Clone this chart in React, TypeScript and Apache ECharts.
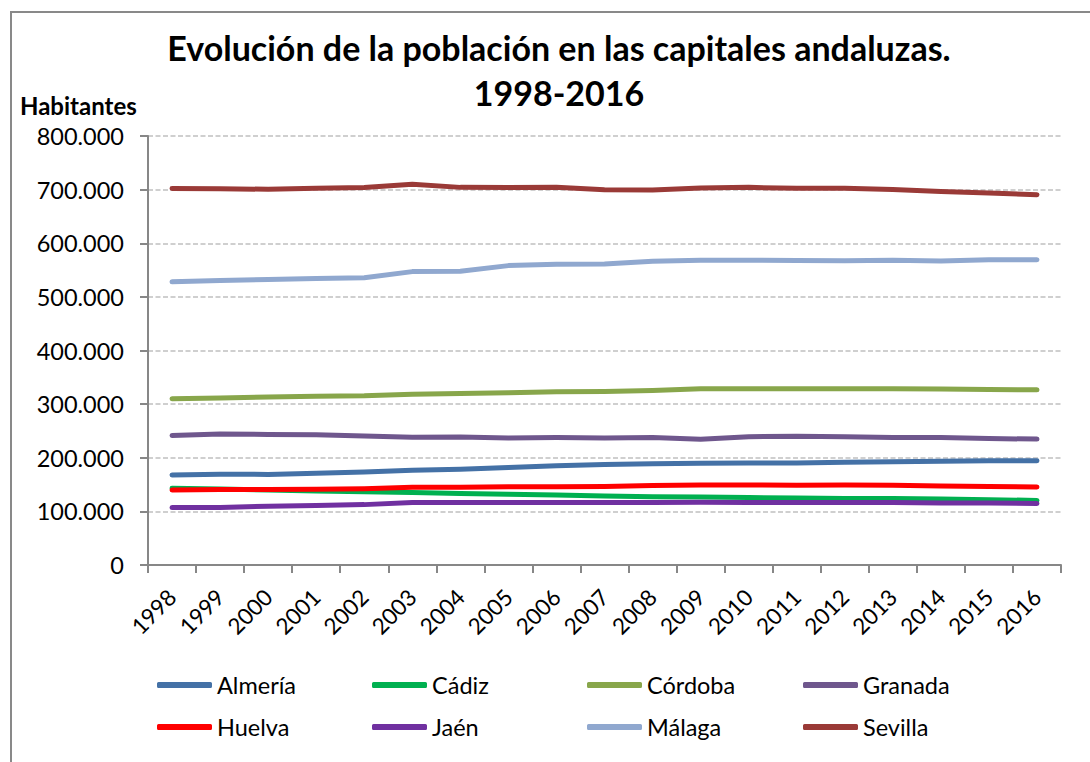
import React, { useEffect, useRef } from "react";
import * as echarts from "echarts";

const years = ["1998","1999","2000","2001","2002","2003","2004","2005","2006","2007","2008","2009","2010","2011","2012","2013","2014","2015","2016"];

const almeria = [168025, 169391, 168945, 170994, 173338, 176727, 178407, 181702, 185309, 187521, 188810, 189680, 190349, 190013, 191443, 192697, 193351, 194203, 194515];
const cadiz = [143129, 141700, 140000, 138200, 136600, 135100, 133400, 131800, 130600, 128600, 127200, 126800, 125800, 124900, 124000, 123900, 123000, 121700, 120500];
const cordoba = [309961, 311500, 313500, 314800, 315500, 318600, 320000, 321200, 322900, 323600, 325500, 328500, 328700, 328800, 328700, 328700, 328000, 327400, 326600];
const granada = [241471, 244486, 243341, 243006, 240661, 238292, 238663, 236982, 237929, 236988, 237663, 234325, 239154, 240099, 239017, 237818, 237540, 235800, 234758];
const huelva = [139991, 140583, 140862, 141479, 142284, 144831, 145150, 145763, 145700, 146173, 148027, 149310, 149410, 148918, 149366, 148568, 147212, 146318, 145468];
const jaen = [107184, 107413, 109500, 110781, 112590, 116540, 116769, 116400, 116731, 116417, 116557, 116790, 116781, 116731, 116557, 116400, 115837, 115395, 114658];
const malaga = [528079, 530553, 532425, 534207, 535686, 547105, 547731, 558287, 560631, 561250, 566447, 568305, 568507, 568030, 567433, 568479, 566913, 569130, 569009];
const sevilla = [701927, 701500, 700716, 702520, 704114, 709975, 704203, 704154, 704414, 699759, 699145, 703206, 704198, 702355, 702355, 700169, 696676, 693878, 690566];

const seriesNames = ["Almería", "Cádiz", "Córdoba", "Granada", "Huelva", "Jaén", "Málaga", "Sevilla"];
const seriesData = [almeria, cadiz, cordoba, granada, huelva, jaen, malaga, sevilla];
const seriesColors = ["#4471A6", "#00B050", "#88A64B", "#6F578D", "#FF0000", "#7030A0", "#90A8CF", "#9A3A37"];

const yTicks = { min: 0, max: 800000, interval: 100000 };

const FONT = "Lato, 'Open Sans', sans-serif";

function fmt(v: number): string {
  if (v === 0) return "0";
  const s = String(Math.round(v));
  return s.replace(/\B(?=(\d{3})+(?!\d))/g, ".");
}

export default function App() {
  const ref = useRef<HTMLDivElement>(null);
  useEffect(() => {
    if (!ref.current) return;
    const chart = echarts.init(ref.current, null, { renderer: "svg" });
    const legendCols = [152, 367, 582, 798];
    const legendRows = [668, 710];
    const legends = seriesNames.map((n, i) => ({
      data: [n],
      left: legendCols[i % 4],
      top: legendRows[Math.floor(i / 4)],
      icon: "roundRect",
      itemWidth: 55,
      itemHeight: 6,
      itemGap: 4,
      textStyle: { fontFamily: FONT, fontSize: 23.5, color: "#000" },
      selectedMode: false,
    }));
    chart.setOption({
      animation: false,
      backgroundColor: "#fff",
      graphic: [
        {
          type: "rect",
          shape: { x: 11, y: 12, width: 1200, height: 900 },
          style: { fill: "none", stroke: "#898989", lineWidth: 2 },
          silent: true,
        },
        {
          type: "text",
          x: 559,
          y: 47,
          style: {
            text: "Evolución de la población en las capitales andaluzas.",
            font: "bold 34px " + FONT,
            fill: "#000",
            textAlign: "center",
            textVerticalAlign: "middle",
          },
        },
        {
          type: "text",
          x: 559,
          y: 92,
          style: {
            text: "1998-2016",
            font: "bold 34px " + FONT,
            fill: "#000",
            textAlign: "center",
            textVerticalAlign: "middle",
          },
        },
        {
          type: "text",
          x: 20,
          y: 105,
          style: {
            text: "Habitantes",
            font: "bold 24px " + FONT,
            fill: "#000",
            textAlign: "left",
            textVerticalAlign: "middle",
          },
        },
      ],
      legend: legends,
      grid: { left: 148, right: 29, top: 136, bottom: 197, containLabel: false },
      xAxis: {
        type: "category",
        data: years,
        boundaryGap: true,
        axisLine: { lineStyle: { color: "#878787", width: 2 } },
        axisTick: { show: true, length: 8, lineStyle: { color: "#878787", width: 2 } },
        axisLabel: { rotate: 45, fontFamily: FONT, fontSize: 22.5, color: "#000", margin: 28, interval: 0 },
      },
      yAxis: {
        type: "value",
        min: yTicks.min,
        max: yTicks.max,
        interval: yTicks.interval,
        axisLine: { show: true, lineStyle: { color: "#878787", width: 2 } },
        axisTick: { show: true, length: 8, lineStyle: { color: "#878787", width: 2 } },
        axisLabel: { fontFamily: FONT, fontSize: 23.5, color: "#000", margin: 24, formatter: (v: number) => fmt(v) },
        splitLine: { show: true, lineStyle: { color: "#C0C0C0", width: 1.5, type: [5, 2.5] } },
      },
      series: seriesNames.map((n, i) => ({
        name: n,
        type: "line",
        data: seriesData[i],
        showSymbol: false,
        symbol: "none",
        color: seriesColors[i],
        lineStyle: { width: 5, color: seriesColors[i], cap: "round", join: "round" },
      })),
    });
    return () => chart.dispose();
  }, []);
  return <div ref={ref} style={{ position: "fixed", left: 0, top: 0, width: 1090, height: 762 }} />;
}
